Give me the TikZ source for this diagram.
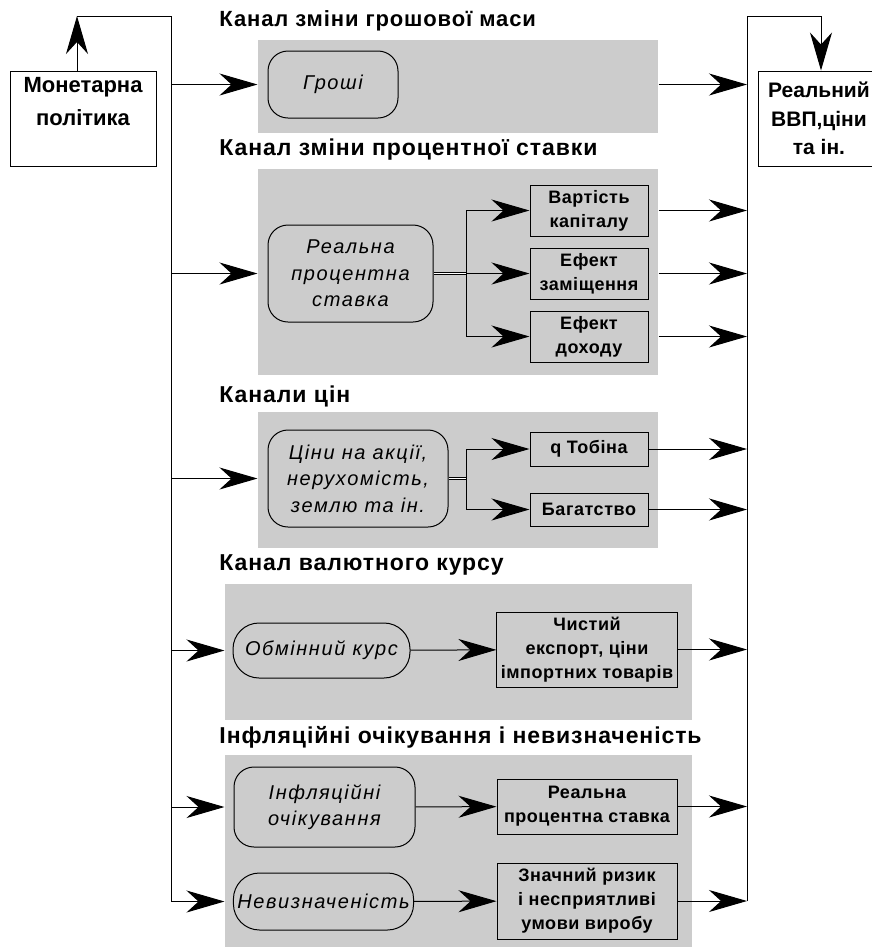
\documentclass[tikz,border=0pt]{standalone}
\usepackage{fontspec}
\setmainfont{Liberation Sans}
\newfontfamily\titlefont[LetterSpace=4]{Liberation Sans}
\newfontfamily\ovalfont[LetterSpace=8]{Liberation Sans}
\newfontfamily\boxfont[LetterSpace=3]{Liberation Sans}
\usetikzlibrary{arrows.meta}
\definecolor{panelgray}{gray}{0.8}

\begin{document}
\begin{tikzpicture}[x=0.5pt, y=-0.5pt, line width=0.5pt,
		>={Stealth[length=19pt, width=11pt, inset=6pt]},
		panel/.style={fill=panelgray, inner sep=0pt},
		title/.style={anchor=west, inner sep=0pt, font=\fontsize{11.5}{13}\titlefont\bfseries},
		oval/.style={draw, fill=panelgray, rounded corners=10pt, align=center, inner sep=2pt, font=\fontsize{10}{13.3}\ovalfont\itshape},
		effect/.style={draw, fill=panelgray, align=center, inner sep=2pt, font=\fontsize{9}{12}\boxfont\bfseries},
		outer/.style={draw, fill=white, align=center, inner sep=2pt, font=\fontsize{11}{16.5}\selectfont\bfseries}]
	\useasboundingbox (0,0) rectangle (872,950);

	% grey panels of the channels
	\node[panel, minimum width=200pt, minimum height=46.5pt] (p1) at (458,86.5) {};
	\node[panel, minimum width=200pt, minimum height=103pt] (p2) at (458,272) {};
	\node[panel, minimum width=200pt, minimum height=68pt] (p3) at (458,480) {};
	\node[panel, minimum width=233.5pt, minimum height=68pt] (p4) at (458.5,652) {};
	\node[panel, minimum width=233.5pt, minimum height=96pt] (p5) at (458.5,851) {};

	\node[title, font=\fontsize{11}{12}\titlefont\bfseries] at (219,21) {Канал зміни грошової маси};
	\node[title] at (219,150) {Канал зміни процентної ставки};
	\node[title] at (219,396) {Канали цін};
	\node[title] at (219,565) {Канал валютного курсу};
	\node[title] at (219,737) {Інфляційні очікування і невизначеність};

	% policy and result
	\node[outer, minimum width=73pt, minimum height=47.5pt, text depth=17pt] (mon) at (83,118.5) {Монетарна\\політика};
	\node[outer, minimum width=61pt, minimum height=47.5pt, font=\fontsize{10.5}{14.3}\selectfont\bfseries] (rbox) at (819,118.5) {Реальний\\ВВП,ціни\\та ін.};

	% channels
	\node[oval, minimum width=65pt, minimum height=33.5pt] (groshi) at (333,84.5) {Гроші};
	\node[oval, minimum width=82.5pt, minimum height=48.5pt] (rps) at (350.5,273.5) {Реальна\\процентна\\ставка};
	\node[oval, minimum width=90pt, minimum height=48.5pt] (prices) at (358,478.5) {Ціни на акції,\\нерухомість,\\землю та ін.};
	\node[oval, rounded corners=13pt, minimum width=88.5pt, minimum height=27.5pt] (fx) at (321.5,650.5) {Обмінний курс};
	\node[oval, minimum width=90.5pt, minimum height=40pt] (infl) at (324.5,807) {Інфляційні\\очікування};
	\node[oval, rounded corners=13pt, minimum width=89.5pt, minimum height=28.5pt] (unc) at (323.5,901.5) {Невизначеність};

	\node[effect, minimum width=59pt, minimum height=25.5pt] (vk) at (589,210.5) {Вартість\\капіталу};
	\node[effect, minimum width=59pt, minimum height=25.5pt] (ez) at (589,273.5) {Ефект\\заміщення};
	\node[effect, minimum width=59pt, minimum height=25.5pt] (ed) at (589,336.5) {Ефект\\доходу};
	\node[effect, minimum width=59pt, minimum height=17pt] (qt) at (589,449) {q Тобіна};
	\node[effect, minimum width=59pt, minimum height=16.5pt] (bag) at (589,509.5) {Багатство};
	\node[effect, minimum width=90pt, minimum height=37.5pt] (ne) at (587,649.5) {Чистий\\експорт, ціни\\імпортних товарів};
	\node[effect, minimum width=90pt, minimum height=27.5pt] (rr) at (587,806.5) {Реальна\\процентна ставка};
	\node[effect, minimum width=90pt, minimum height=38pt] (zr) at (587,901) {Значний ризик\\і несприятливі\\умови виробу};

	% buses
	\coordinate (ltop) at (171,16);
	\coordinate (rtop) at (747,16);
	\coordinate (j1) at (466,273.5);
	\coordinate (j2) at (466,478.5);
	\draw[->] ([xshift=-3pt]mon.north) -- ([xshift=-3pt]mon.north |- ltop);
	\draw ([xshift=-3pt]mon.north |- ltop) -- (ltop) -- (ltop |- unc);
	\draw[->] (rtop |- zr) -- (rtop) -| ([xshift=1pt]rbox.north);

	\foreach \n/\p in {groshi/p1, rps/p2, prices/p3, fx/p4, infl/p5, unc/p5}
		\draw[->] (ltop |- \n) -- (\p.west |- \n);
	\foreach \n/\p in {groshi/p1, vk/p2, ez/p2, ed/p2}
		\draw[->] (\p.east |- \n) -- (rtop |- \n);
	\foreach \n in {qt, bag, ne, rr, zr}
		\draw[->] (\n.east) -- (rtop |- \n);

	% branches inside the panels
	\draw[double, double distance=0.8pt] (rps.east) -- (j1);
	\draw (j1 |- vk) -- (j1 |- ed);
	\foreach \n in {vk, ez, ed}
		\draw[->] (j1 |- \n) -- (\n.west);
	\draw[double, double distance=0.8pt] (prices.east) -- (j2);
	\draw (j2 |- qt) -- (j2 |- bag);
	\foreach \n in {qt, bag}
		\draw[->] (j2 |- \n) -- (\n.west);
	\draw[->] (fx) -- (ne);
	\draw[->] (infl) -- (rr);
	\draw[->] (unc) -- (zr);
\end{tikzpicture}
\end{document}
